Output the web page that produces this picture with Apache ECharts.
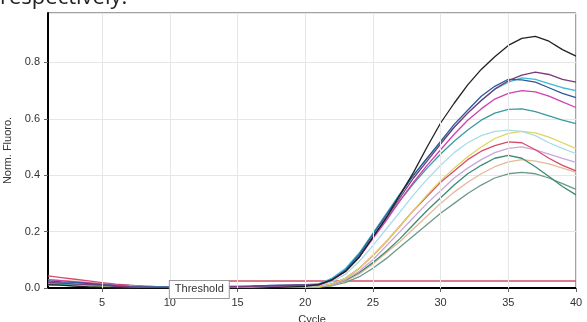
<!DOCTYPE html>
<html><head><meta charset="utf-8">
<script src="https://cdn.jsdelivr.net/npm/echarts@6/dist/echarts.min.js"></script>
<style>html,body{margin:0;padding:0;background:#fff;overflow:hidden}#c{width:587px;height:322px}</style>
</head><body><div id="c"></div>
<script>
const cycles = [1,2,3,4,5,6,7,8,9,10,11,12,13,14,15,16,17,18,19,20,21,22,23,24,25,26,27,28,29,30,31,32,33,34,35,36,37,38,39,40];
const xTickValues = [5,10,15,20,25,30,35,40];

const blackCurve = [0.012,0.01,0.007,0.004,0.002,0,-0.002,-0.004,-0.004,-0.003,-0.002,-0.001,0,-0.002,-0.003,-0.002,0,0.002,0.004,0.006,
  0.012,0.03,0.06,0.11,0.18,0.25,0.33,0.41,0.50,0.585,0.655,0.72,0.775,0.82,0.86,0.885,0.892,0.875,0.845,0.822];
const purpleCurve = [0.02,0.017,0.014,0.012,0.01,0.006,0.004,0.003,0.002,0.002,0.002,0.002,0.003,0.004,0.005,0.006,0.008,0.009,0.01,0.01,
  0.012,0.03,0.06,0.11,0.18,0.25,0.32,0.39,0.45,0.51,0.57,0.62,0.665,0.705,0.735,0.755,0.765,0.757,0.74,0.73];
const blueCurve = [0.025,0.022,0.02,0.016,0.012,0.008,0.005,0.004,0.003,0.003,0.003,0.004,0.005,0.006,0.006,0.007,0.008,0.009,0.01,0.011,
  0.012,0.03,0.065,0.12,0.19,0.26,0.33,0.40,0.46,0.52,0.58,0.63,0.68,0.715,0.74,0.738,0.73,0.71,0.69,0.675];
const cyanCurve = [0.015,0.014,0.013,0.012,0.01,0.008,0.006,0.005,0.004,0.003,0.003,0.003,0.004,0.005,0.006,0.007,0.008,0.009,0.01,0.012,
  0.015,0.035,0.07,0.125,0.195,0.265,0.335,0.40,0.46,0.515,0.57,0.62,0.665,0.705,0.73,0.745,0.74,0.725,0.71,0.70];
const magentaCurve = [0.03,0.026,0.022,0.018,0.014,0.01,0.007,0.005,0.003,0.002,0.001,0.001,0.002,0.003,0.004,0.005,0.006,0.007,0.008,0.009,
  0.01,0.028,0.06,0.11,0.175,0.24,0.31,0.375,0.435,0.49,0.545,0.595,0.635,0.67,0.69,0.70,0.695,0.68,0.66,0.64];
const tealCurve = [0.018,0.016,0.014,0.012,0.01,0.008,0.006,0.005,0.004,0.003,0.002,0.002,0.002,0.003,0.004,0.005,0.006,0.007,0.008,0.01,
  0.012,0.03,0.062,0.115,0.18,0.245,0.31,0.37,0.425,0.475,0.52,0.56,0.595,0.62,0.633,0.635,0.625,0.61,0.595,0.583];
const lightCyanCurve = [0.02,0.018,0.016,0.014,0.012,0.009,0.007,0.005,0.004,0.003,0.003,0.003,0.003,0.004,0.004,0.005,0.005,0.006,0.006,0.007,
  0.008,0.022,0.05,0.095,0.15,0.21,0.27,0.33,0.385,0.435,0.48,0.515,0.54,0.555,0.56,0.555,0.54,0.515,0.495,0.476];
const yellowCurve = [0.012,0.011,0.01,0.009,0.008,0.007,0.006,0.005,0.004,0.004,0.004,0.004,0.004,0.004,0.004,0.004,0.004,0.004,0.004,0.004,
  0.005,0.015,0.035,0.07,0.115,0.165,0.22,0.275,0.33,0.38,0.425,0.465,0.50,0.53,0.548,0.555,0.55,0.535,0.515,0.494];
const redCurve = [0.043,0.037,0.031,0.025,0.019,0.014,0.01,0.007,0.005,0.004,0.004,0.004,0.004,0.004,0.004,0.004,0.004,0.004,0.004,0.004,
  0.005,0.015,0.035,0.07,0.115,0.165,0.22,0.275,0.325,0.375,0.415,0.455,0.485,0.505,0.518,0.515,0.49,0.46,0.435,0.415];
const lilacCurve = [0.022,0.02,0.018,0.015,0.012,0.009,0.007,0.005,0.004,0.003,0.003,0.003,0.003,0.003,0.003,0.003,0.003,0.003,0.003,0.003,
  0.004,0.012,0.03,0.06,0.10,0.15,0.20,0.25,0.30,0.345,0.39,0.425,0.455,0.48,0.495,0.50,0.49,0.475,0.46,0.445];
const greenCurve = [0.015,0.014,0.013,0.012,0.011,0.01,0.009,0.007,0.005,0.004,0.003,0.003,0.002,0.002,0.002,0.002,0.002,0.002,0.002,0.002,
  0.004,0.012,0.028,0.055,0.09,0.13,0.175,0.225,0.275,0.32,0.365,0.405,0.435,0.46,0.47,0.46,0.43,0.395,0.36,0.33];
const peachCurve = [0.03,0.027,0.024,0.02,0.016,0.012,0.009,0.006,0.005,0.004,0.003,0.003,0.003,0.003,0.003,0.003,0.003,0.003,0.003,0.003,
  0.004,0.01,0.025,0.05,0.085,0.125,0.165,0.21,0.255,0.30,0.34,0.375,0.405,0.43,0.447,0.455,0.45,0.44,0.425,0.41];
const greyGreenCurve = [0.01,0.009,0.008,0.007,0.006,0.005,0.004,0.003,0.003,0.002,0.002,0.002,0.002,0.002,0.002,0.002,0.002,0.002,0.002,0.002,
  0.003,0.008,0.02,0.04,0.07,0.105,0.145,0.185,0.225,0.265,0.30,0.335,0.365,0.39,0.405,0.41,0.405,0.39,0.37,0.35];

const thresholdCycles = [10, 40];
const thresholdValue = 0.025;

const curves = [
  {name:'A1', color:'#6a9a8a', values:greyGreenCurve},
  {name:'A2', color:'#e8b89a', values:peachCurve},
  {name:'A3', color:'#3a8c70', values:greenCurve},
  {name:'A4', color:'#c8a8dc', values:lilacCurve},
  {name:'A5', color:'#d84a6a', values:redCurve},
  {name:'A6', color:'#dcd660', values:yellowCurve},
  {name:'A7', color:'#a8dcea', values:lightCyanCurve},
  {name:'A8', color:'#3a9aa0', values:tealCurve},
  {name:'A9', color:'#d040b0', values:magentaCurve},
  {name:'A10', color:'#40b8d0', values:cyanCurve},
  {name:'A11', color:'#2a5a9a', values:blueCurve},
  {name:'A12', color:'#7a3a7a', values:purpleCurve},
  {name:'A13', color:'#222222', values:blackCurve}
];

const font = 'Liberation Sans, Arial, sans-serif';
const chart = echarts.init(document.getElementById('c'), null, {renderer:'canvas'});

const series = [{
  type:'line', name:'grid', data:[], silent:true, z:1,
  markLine:{silent:true, symbol:['none','none'], label:{show:false},
    lineStyle:{color:'#e6e6e6', type:'solid', width:1},
    data: xTickValues.map(v => ({xAxis:v}))}
}];
curves.forEach(c => series.push({
  type:'line', name:c.name, showSymbol:false, symbol:'none', z:3,
  lineStyle:{color:c.color, width:1.3}, itemStyle:{color:c.color},
  data: cycles.map((x,i) => [x, c.values[i]])
}));
series.push({
  type:'line', name:'Threshold', symbol:'none', z:2,
  lineStyle:{color:'#d05060', width:1.5},
  data: thresholdCycles.map(x => [x, thresholdValue])
});

chart.setOption({
  animation:false,
  grid:{left:48, right:11, top:13, bottom:34, show:true, borderColor:'#444', borderWidth:1,
    containLabel:false, outerBoundsMode:'none'},
  xAxis:{type:'value', min:1, max:40, name:'Cycle', nameLocation:'middle', nameGap:26,
    nameTextStyle:{fontFamily:font, fontSize:11, color:'#333'},
    axisLine:{show:true, onZero:false, lineStyle:{color:'#000', width:2}},
    axisTick:{show:true, length:4, customValues:xTickValues, lineStyle:{color:'#666'}},
    axisLabel:{customValues:xTickValues, fontFamily:font, fontSize:11, color:'#333', margin:9},
    splitLine:{show:false}},
  yAxis:{type:'value', min:0, max:0.975, interval:0.2, name:'Norm. Fluoro.', nameLocation:'middle', nameGap:27,
    nameTextStyle:{fontFamily:font, fontSize:11, color:'#333'},
    axisLine:{show:true, lineStyle:{color:'#000', width:2}},
    axisTick:{show:true, length:4, lineStyle:{color:'#666'}},
    axisLabel:{showMaxLabel:false, fontFamily:font, fontSize:11, color:'#333', margin:8, formatter:v => v.toFixed(1)},
    splitLine:{show:true, lineStyle:{color:'#e6e6e6'}}},
  series: series
});

const p = chart.convertToPixel({gridIndex:0}, [thresholdCycles[0], thresholdValue]);
chart.setOption({graphic:[
  {type:'text', x:0, y:-13, z:100, style:{text:'respectively.', font:'22px "Open Sans", sans-serif', fill:'#222', verticalAlign:'top'}},
  {type:'text', x:p[0], y:p[1], z:100, style:{text:'Threshold', font:'11px ' + font, fill:'#333',
    backgroundColor:'#fff', borderColor:'#999', borderWidth:1, padding:[3,5,3,5], verticalAlign:'top', align:'left'}}
]});
</script>
</body></html>
